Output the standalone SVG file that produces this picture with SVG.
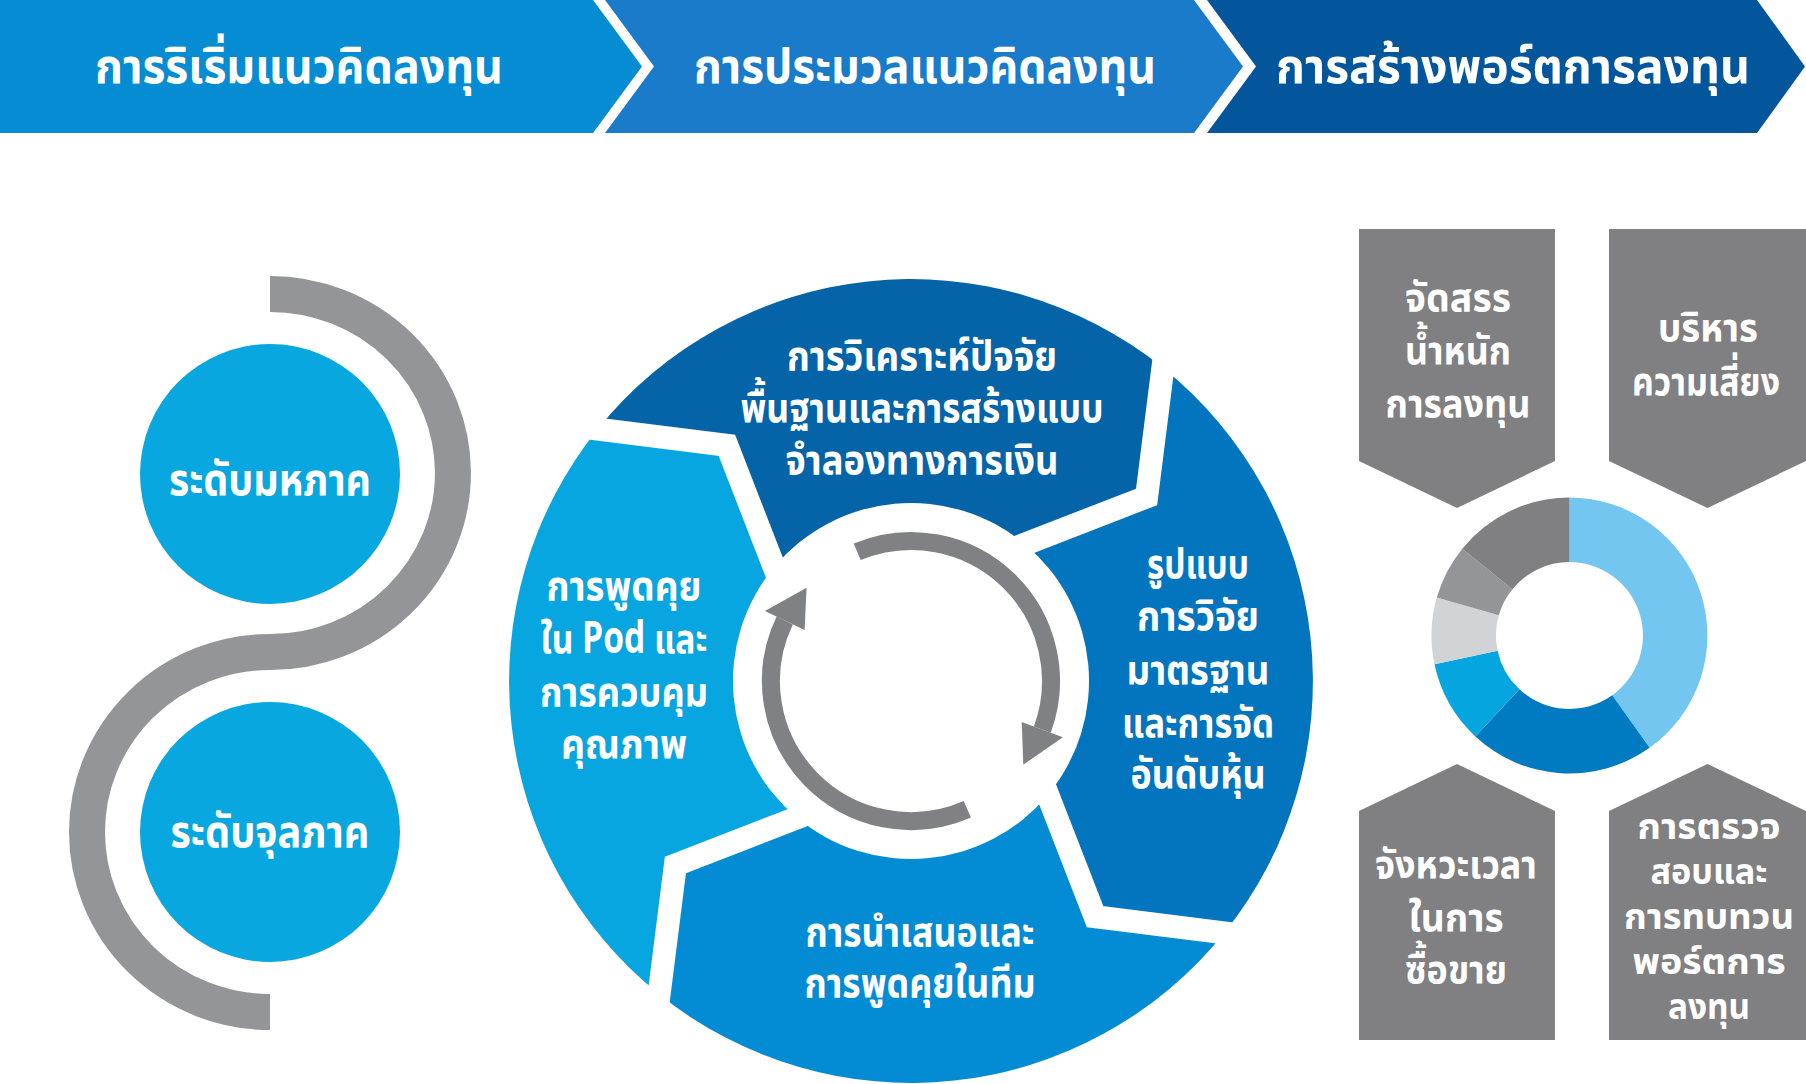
<svg xmlns="http://www.w3.org/2000/svg" width="1806" height="1084" viewBox="0 0 1806 1084">
<style>
.t{font-family:"Noto Sans Thai UI","Noto Sans Thai","Noto Sans","DejaVu Sans",sans-serif;font-weight:700;fill:#ffffff;text-anchor:middle}
.bn{font-size:50px}
.rg{font-size:44px}
.cc{font-size:47px}
.bx{font-size:41px}
.bs{font-size:38px}
.gap{fill:none;stroke:#ffffff;stroke-width:23;stroke-linejoin:miter;stroke-miterlimit:10}
.garc{fill:none;stroke:#808184;stroke-width:18}
.ghead{fill:#808184}
.box{fill:#808082}
</style>
<rect width="1806" height="1084" fill="#ffffff"/>

<g id="banner-1">
<polygon points="0,0 593,0 642,66.5 593,133 0,133" fill="#058cd2"/>
<text class="t bn" x="299" y="83" textLength="408" lengthAdjust="spacingAndGlyphs">การริเริ่มแนวคิดลงทุน</text>
</g>
<g id="banner-2">
<polygon points="605,0 1194,0 1243,66.5 1194,133 605,133 654,66.5" fill="#1a7bca"/>
<text class="t bn" x="925" y="83" textLength="462" lengthAdjust="spacingAndGlyphs">การประมวลแนวคิดลงทุน</text>
</g>
<g id="banner-3">
<polygon points="1207,0 1757,0 1805,66.5 1757,133 1207,133 1256,66.5" fill="#03569c"/>
<text class="t bn" x="1513" y="83" textLength="474" lengthAdjust="spacingAndGlyphs">การสร้างพอร์ตการลงทุน</text>
</g>

<g id="connectors">
<path d="M270,294 A183,179 0 0 1 270,652 A183,180 0 0 0 270,1012" fill="none" stroke="#939598" stroke-width="36"/>
</g>

<g id="node-macro">
<circle cx="270" cy="474" r="130" fill="#08a7e0"/>
<text class="t cc" x="270" y="495" textLength="202" lengthAdjust="spacingAndGlyphs">ระดับมหภาค</text>
</g>
<g id="node-micro">
<circle cx="270" cy="832" r="130" fill="#08a7e0"/>
<text class="t cc" x="270" y="847" textLength="199" lengthAdjust="spacingAndGlyphs">ระดับจุลภาค</text>
</g>

<g id="seg-top">
<path d="M597.8,429.1 A402,402 0 0 1 1162.9,367.8 L1146.6,496.9 L1024.9,544.2 A178,178 0 0 0 774.2,567.1 L726.9,445.4 Z" fill="#0564a8"/>
<text class="t rg"><tspan x="922" y="370" textLength="270" lengthAdjust="spacingAndGlyphs">การวิเคราะห์ปัจจัย</tspan><tspan x="922" y="422" textLength="363" lengthAdjust="spacingAndGlyphs">พื้นฐานและการสร้างแบบ</tspan><tspan x="922" y="474" textLength="273" lengthAdjust="spacingAndGlyphs">จำลองทางการเงิน</tspan></text>
</g>
<g id="seg-right">
<path d="M1162.9,367.8 A402,402 0 0 1 1224.2,932.9 L1095.1,916.6 L1047.8,794.9 A178,178 0 0 0 1024.9,544.2 L1146.6,496.9 Z" fill="#0275be"/>
<text class="t rg"><tspan x="1198" y="578" textLength="102" lengthAdjust="spacingAndGlyphs">รูปแบบ</tspan><tspan x="1198" y="630" textLength="122" lengthAdjust="spacingAndGlyphs">การวิจัย</tspan><tspan x="1198" y="684" textLength="143" lengthAdjust="spacingAndGlyphs">มาตรฐาน</tspan><tspan x="1198" y="737" textLength="152" lengthAdjust="spacingAndGlyphs">และการจัด</tspan><tspan x="1198" y="788" textLength="135" lengthAdjust="spacingAndGlyphs">อันดับหุ้น</tspan></text>
</g>
<g id="seg-bottom">
<path d="M1224.2,932.9 A402,402 0 0 1 659.1,994.2 L675.4,865.1 L797.1,817.8 A178,178 0 0 0 1047.8,794.9 L1095.1,916.6 Z" fill="#038cd4"/>
<text class="t rg"><tspan x="920" y="946" textLength="229" lengthAdjust="spacingAndGlyphs">การนำเสนอและ</tspan><tspan x="920" y="997" textLength="231" lengthAdjust="spacingAndGlyphs">การพูดคุยในทีม</tspan></text>
</g>
<g id="seg-left">
<path d="M659.1,994.2 A402,402 0 0 1 597.8,429.1 L726.9,445.4 L774.2,567.1 A178,178 0 0 0 797.1,817.8 L675.4,865.1 Z" fill="#07a6e0"/>
<text class="t rg"><tspan x="624" y="600" textLength="155" lengthAdjust="spacingAndGlyphs">การพูดคุย</tspan><tspan x="624" y="653" textLength="167" lengthAdjust="spacingAndGlyphs">ใน Pod และ</tspan><tspan x="624" y="706" textLength="168" lengthAdjust="spacingAndGlyphs">การควบคุม</tspan><tspan x="624" y="758" textLength="126" lengthAdjust="spacingAndGlyphs">คุณภาพ</tspan></text>
</g>
<g id="seg-gaps">
<polyline class="gap" points="577.9,426.6 726.9,445.4 781.4,585.7"/>
<polyline class="gap" points="1165.4,347.9 1146.6,496.9 1006.3,551.4"/>
<polyline class="gap" points="1244.1,935.4 1095.1,916.6 1040.6,776.3"/>
<polyline class="gap" points="656.6,1014.1 675.4,865.1 815.7,810.6"/>
</g>

<g id="cycle-arrows">
<path class="garc" d="M857.2,551.8 A140,140 0 0 1 1042.3,729.6"/>
<polygon class="ghead" points="1021.7,721.9 1062.9,737.2 1023.3,764.7"/>
<path class="garc" d="M967.3,809.2 A140,140 0 0 1 784.7,620.5"/>
<polygon class="ghead" points="804.6,630 764.9,611 806.6,587.7"/>
</g>

<g id="donut">
<path d="M1569.5,497.5 A138,138 0 0 1 1649.6,747.8 L1612.2,695.3 A73.5,73.5 0 0 0 1569.5,562 Z" fill="#73c6ef"/>
<path d="M1649.6,747.8 A138,138 0 0 1 1475.4,736.4 L1519.4,689.3 A73.5,73.5 0 0 0 1612.2,695.3 Z" fill="#007ac1"/>
<path d="M1475.4,736.4 A138,138 0 0 1 1434.5,664.2 L1497.6,650.8 A73.5,73.5 0 0 0 1519.4,689.3 Z" fill="#05a6e0"/>
<path d="M1434.5,664.2 A138,138 0 0 1 1436.8,597.5 L1498.8,615.2 A73.5,73.5 0 0 0 1497.6,650.8 Z" fill="#d1d3d4"/>
<path d="M1436.8,597.5 A138,138 0 0 1 1462.3,548.7 L1512.4,589.2 A73.5,73.5 0 0 0 1498.8,615.2 Z" fill="#939598"/>
<path d="M1462.3,548.7 A138,138 0 0 1 1569.5,497.5 L1569.5,562 A73.5,73.5 0 0 0 1512.4,589.2 Z" fill="#808082"/>
</g>

<g id="box-allocation">
<path class="box" d="M1359,229 H1555 V461 L1457,508 L1359,461 Z"/>
<text class="t bx"><tspan x="1458" y="311" textLength="106" lengthAdjust="spacingAndGlyphs">จัดสรร</tspan><tspan x="1458" y="364" textLength="106" lengthAdjust="spacingAndGlyphs">น้ำหนัก</tspan><tspan x="1458" y="417" textLength="145" lengthAdjust="spacingAndGlyphs">การลงทุน</tspan></text>
</g>
<g id="box-risk">
<path class="box" d="M1609,229 H1806 V461 L1707.5,508 L1609,461 Z"/>
<text class="t bx"><tspan x="1708" y="341" textLength="100" lengthAdjust="spacingAndGlyphs">บริหาร</tspan><tspan x="1706" y="395" textLength="148" lengthAdjust="spacingAndGlyphs">ความเสี่ยง</tspan></text>
</g>
<g id="box-timing">
<path class="box" d="M1359,1040 H1555 V811 L1457,764 L1359,811 Z"/>
<text class="t bx"><tspan x="1456" y="878" textLength="162" lengthAdjust="spacingAndGlyphs">จังหวะเวลา</tspan><tspan x="1456" y="931" textLength="95" lengthAdjust="spacingAndGlyphs">ในการ</tspan><tspan x="1456" y="983" textLength="102" lengthAdjust="spacingAndGlyphs">ซื้อขาย</tspan></text>
</g>
<g id="box-review">
<path class="box" d="M1609,1040 H1806 V811 L1707.5,764 L1609,811 Z"/>
<text class="t bs"><tspan x="1709" y="839" textLength="143" lengthAdjust="spacingAndGlyphs">การตรวจ</tspan><tspan x="1709" y="884" textLength="117" lengthAdjust="spacingAndGlyphs">สอบและ</tspan><tspan x="1709" y="929" textLength="170" lengthAdjust="spacingAndGlyphs">การทบทวน</tspan><tspan x="1709" y="974" textLength="153" lengthAdjust="spacingAndGlyphs">พอร์ตการ</tspan><tspan x="1709" y="1019" textLength="82" lengthAdjust="spacingAndGlyphs">ลงทุน</tspan></text>
</g>
</svg>
